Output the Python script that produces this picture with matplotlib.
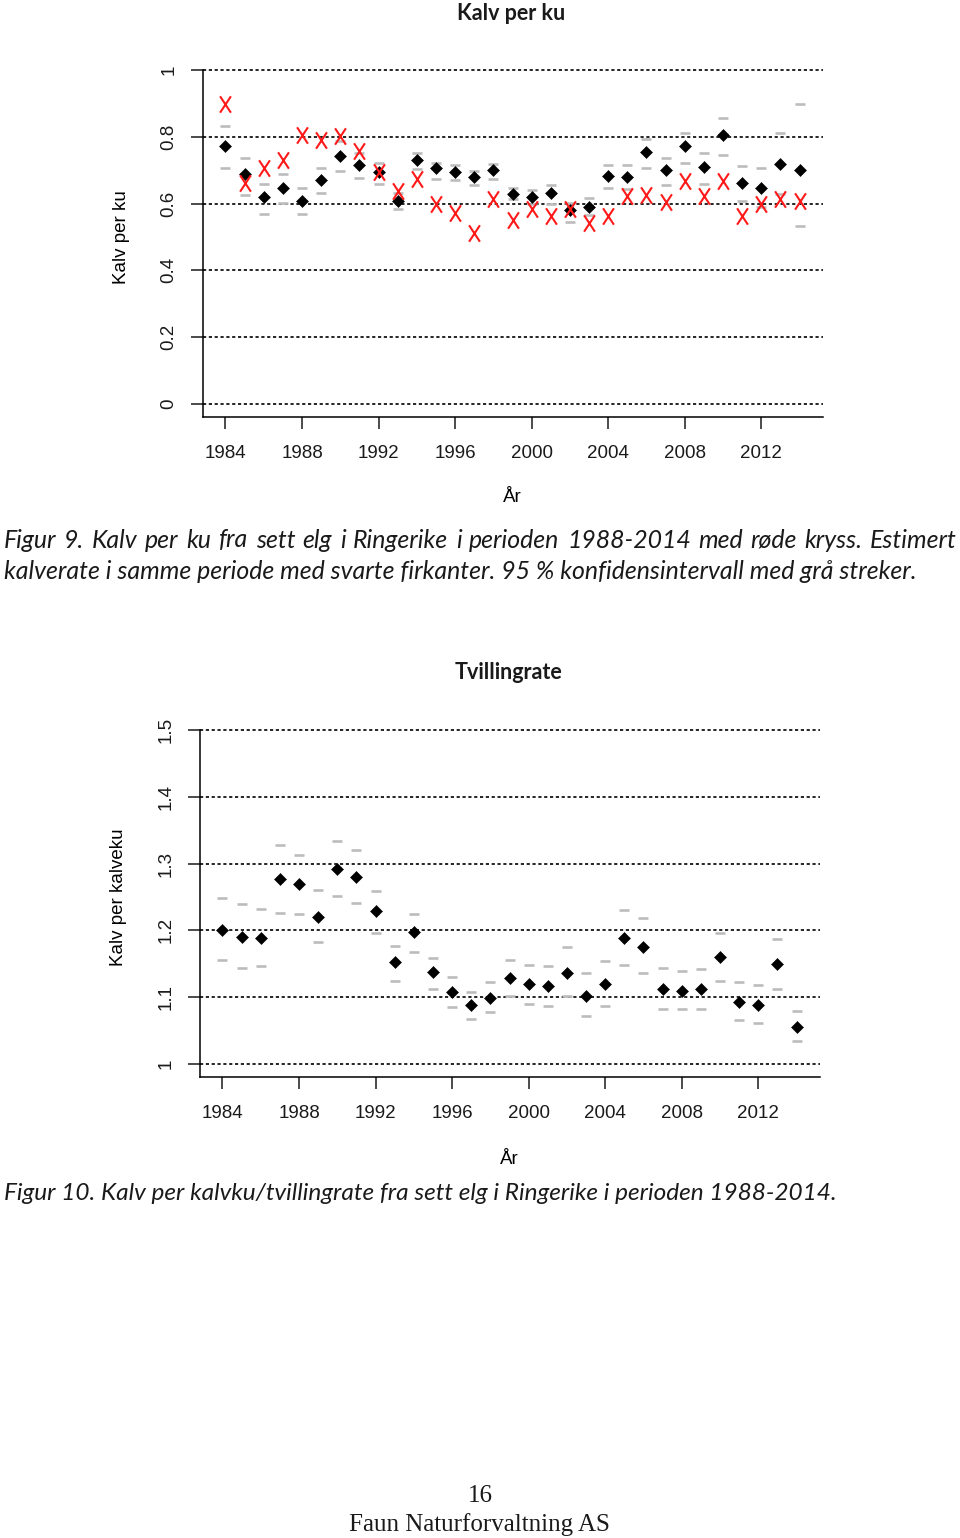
import matplotlib
matplotlib.use("Agg")
import matplotlib.pyplot as plt
from matplotlib.path import Path
from matplotlib import font_manager

W, H, DPI = 960, 1538, 100

years = [1984, 1985, 1986, 1987, 1988, 1989, 1990, 1991, 1992, 1993, 1994,
         1995, 1996, 1997, 1998, 1999, 2000, 2001, 2002, 2003, 2004, 2005,
         2006, 2007, 2008, 2009, 2010, 2011, 2012, 2013, 2014]

# Figur 9: kalv per ku
kpk_observed = [0.898, 0.663, 0.708, 0.731, 0.806, 0.791, 0.803, 0.756, 0.695, 0.638, 0.673,
                0.598, 0.573, 0.513, 0.613, 0.550, 0.585, 0.563, 0.583, 0.543, 0.563, 0.623,
                0.626, 0.606, 0.668, 0.623, 0.668, 0.563, 0.598, 0.613, 0.608]
kpk_estimate = [0.771, 0.688, 0.620, 0.648, 0.608, 0.672, 0.743, 0.715, 0.695, 0.608, 0.730,
                0.706, 0.696, 0.681, 0.701, 0.630, 0.621, 0.633, 0.581, 0.591, 0.682, 0.681,
                0.753, 0.701, 0.771, 0.710, 0.805, 0.662, 0.648, 0.720, 0.701]
kpk_upper = [0.832, 0.736, 0.660, 0.688, 0.646, 0.707, 0.786, 0.752, 0.723, 0.633, 0.752,
             0.723, 0.717, 0.698, 0.718, 0.646, 0.641, 0.655, 0.603, 0.618, 0.717, 0.717,
             0.792, 0.736, 0.812, 0.750, 0.855, 0.712, 0.707, 0.812, 0.898]
kpk_lower = [0.707, 0.626, 0.570, 0.603, 0.570, 0.631, 0.699, 0.678, 0.660, 0.583, 0.705,
             0.675, 0.670, 0.655, 0.675, 0.613, 0.600, 0.598, 0.545, 0.565, 0.646, 0.643,
             0.707, 0.655, 0.722, 0.660, 0.745, 0.608, 0.590, 0.628, 0.532]

# Figur 10: tvillingrate
tw_estimate = [1.200, 1.1895, 1.188, 1.2765, 1.2695, 1.2205, 1.2925, 1.2805, 1.229, 1.152, 1.197,
               1.137, 1.107, 1.088, 1.099, 1.128, 1.119, 1.117, 1.1355, 1.102, 1.119, 1.188,
               1.1755, 1.1115, 1.109, 1.1115, 1.1595, 1.0925, 1.0875, 1.1495, 1.0545]
tw_upper = [1.2485, 1.239, 1.2315, 1.3275, 1.3135, 1.2605, 1.3345, 1.320, 1.2585, 1.177, 1.2245,
            1.1585, 1.1295, 1.108, 1.122, 1.1555, 1.1485, 1.146, 1.175, 1.1365, 1.1535, 1.230,
            1.218, 1.144, 1.1395, 1.1415, 1.1965, 1.122, 1.1175, 1.1865, 1.079]
tw_lower = [1.1555, 1.144, 1.1465, 1.2265, 1.2245, 1.182, 1.251, 1.2415, 1.1965, 1.1245, 1.167,
            1.1125, 1.0845, 1.0675, 1.077, 1.1015, 1.089, 1.0865, 1.1015, 1.072, 1.087, 1.1485,
            1.1365, 1.082, 1.082, 1.082, 1.1245, 1.065, 1.0605, 1.1125, 1.034]

xticks = [1984, 1988, 1992, 1996, 2000, 2004, 2008, 2012]
xticklabels = ["1984", "1988", "1992", "1996", "2000", "2004", "2008", "2012"]
kpk_yticks = [0, 0.2, 0.4, 0.6, 0.8, 1.0]
kpk_yticklabels = ["0", "0.2", "0.4", "0.6", "0.8", "1"]
tw_yticks = [1.0, 1.1, 1.2, 1.3, 1.4, 1.5]
tw_yticklabels = ["1", "1.1", "1.2", "1.3", "1.4", "1.5"]

title1 = "Kalv per ku"
title2 = "Tvillingrate"
ylabel1 = "Kalv per ku"
ylabel2 = "Kalv per kalveku"
xlabel = "År"
cap1_line1 = "Figur 9. Kalv per ku fra sett elg i Ringerike i perioden 1988-2014 med røde kryss. Estimert"
cap1_line2 = "kalverate i samme periode med svarte firkanter. 95 % konfidensintervall med grå streker."
cap2 = "Figur 10. Kalv per kalvku/tvillingrate fra sett elg i Ringerike i perioden 1988-2014."
page_no = "16"
footer = "Faun Naturforvaltning AS"

names = {f.name for f in font_manager.fontManager.ttflist}
AXFONT = "Liberation Sans" if "Liberation Sans" in names else "DejaVu Sans"
CAPFONT = "Lato" if "Lato" in names else "DejaVu Sans"
SERIF = "Liberation Serif" if "Liberation Serif" in names else "DejaVu Serif"

plt.rcParams["font.family"] = [AXFONT, "DejaVu Sans"]

fig = plt.figure(figsize=(W / DPI, H / DPI), dpi=DPI)
fig.patch.set_facecolor("white")


def rect(l, t, r, b):
    return [l / W, 1 - b / H, (r - l) / W, (b - t) / H]


def fx(x):
    return x / W


def fy(y):
    return 1 - y / H


x_marker = Path([(-0.33, -0.5), (0.33, 0.5), (-0.33, 0.5), (0.33, -0.5)],
                [Path.MOVETO, Path.LINETO, Path.MOVETO, Path.LINETO])

GRAY = "#bcbcbc"
TXT = "#1a1a1a"
XLIM = (1982.8, 2015.2)


def style_axes(ax, ylim, yticks, yticklabels, ytop):
    ax.set_xlim(*XLIM)
    ax.set_ylim(*ylim)
    for s in ("top", "right"):
        ax.spines[s].set_visible(False)
    ax.spines["left"].set_bounds(ylim[0], ytop)
    for s in ("left", "bottom"):
        ax.spines[s].set_linewidth(1.1)
    ax.set_xticks(xticks)
    ax.set_xticklabels(xticklabels)
    ax.set_yticks(yticks)
    ax.set_yticklabels(yticklabels, rotation=90, va="center", ha="center")
    ax.tick_params(axis="both", direction="out", length=8.5, width=1.1,
                   labelsize=13.5, colors=TXT)
    ax.tick_params(axis="x", pad=11.5)
    ax.tick_params(axis="y", pad=15.5)
    ax.grid(axis="y", color="black", linestyle=(0, (1.9, 1.6)), linewidth=1.2)
    ax.set_axisbelow(True)
    ax.set_facecolor("white")


# ---- Top chart ----
ax1 = fig.add_axes(rect(202.5, 56.6, 822.5, 417.4))
style_axes(ax1, (-0.04, 1.04), kpk_yticks, kpk_yticklabels, 1.0)
ax1.plot(years, kpk_upper, linestyle="none", marker="_", markersize=7.5,
         markeredgewidth=1.9, color=GRAY, zorder=3)
ax1.plot(years, kpk_lower, linestyle="none", marker="_", markersize=7.5,
         markeredgewidth=1.9, color=GRAY, zorder=3)
ax1.plot(years, kpk_estimate, linestyle="none", marker="D", markersize=6.3,
         color="black", markeredgewidth=0.4, zorder=4)
ax1.plot(years, kpk_observed, linestyle="none", marker=x_marker, markersize=11.8,
         markerfacecolor="none", markeredgecolor="#ff1a1a", markeredgewidth=1.5, zorder=5)
ax1.set_xlabel(xlabel, fontsize=13.5)
ax1.xaxis.set_label_coords(0.5, (417.4 - 498) / (417.4 - 56.6))
ax1.xaxis.label.set_va("center")
ax1.set_ylabel(ylabel1, fontsize=13.5)
ax1.yaxis.set_label_coords((122 - 202.5) / 620, 0.5)
ax1.yaxis.label.set_va("center")

# ---- Bottom chart ----
ax2 = fig.add_axes(rect(199.5, 717.0, 819.5, 1077.0))
style_axes(ax2, (0.98, 1.52), tw_yticks, tw_yticklabels, 1.5)
ax2.plot(years, tw_upper, linestyle="none", marker="_", markersize=7.5,
         markeredgewidth=1.9, color=GRAY, zorder=3)
ax2.plot(years, tw_lower, linestyle="none", marker="_", markersize=7.5,
         markeredgewidth=1.9, color=GRAY, zorder=3)
ax2.plot(years, tw_estimate, linestyle="none", marker="D", markersize=6.3,
         color="black", markeredgewidth=0.4, zorder=4)
ax2.set_xlabel(xlabel, fontsize=13.5)
ax2.xaxis.set_label_coords(0.5, (1077 - 1159) / (1077 - 717))
ax2.xaxis.label.set_va("center")
ax2.set_ylabel(ylabel2, fontsize=13.5)
ax2.yaxis.set_label_coords((119 - 199.5) / 620, 0.5)
ax2.yaxis.label.set_va("center")

# ---- Titles ----
fig.text(fx(511), fy(13), title1, ha="center", va="center", fontsize=15.5,
         fontweight="bold", family=[CAPFONT, "DejaVu Sans"], color=TXT)
fig.text(fx(508.5), fy(673), title2, ha="center", va="center", fontsize=15.5,
         fontweight="bold", family=[CAPFONT, "DejaVu Sans"], color=TXT)

# ---- Captions ----
renderer = fig.canvas.get_renderer()
cap_fam = [CAPFONT, "DejaVu Sans"]


def text_width(s, size):
    t = fig.text(0, 0, s, fontsize=size, style="italic", family=cap_fam)
    w = t.get_window_extent(renderer).width
    t.remove()
    return w


base = 16.0
cap_size = base * (913.0 / text_width(cap1_line2, base))
cap2_size = base * (832.0 / text_width(cap2, base))


def justified(line, x0, x1, y, size):
    words = line.split(" ")
    widths = [text_width(w, size) for w in words]
    gap = (x1 - x0 - sum(widths)) / (len(words) - 1)
    x = x0
    for w, wd in zip(words, widths):
        fig.text(fx(x), fy(y), w, fontsize=size, style="italic", family=cap_fam,
                 ha="left", va="center", color=TXT)
        x += wd + gap


justified(cap1_line1, 4, 957, 540, cap_size)
fig.text(fx(4), fy(571), cap1_line2, fontsize=cap_size, style="italic", family=cap_fam,
         ha="left", va="center", color=TXT)
fig.text(fx(4), fy(1194), cap2, fontsize=cap2_size, style="italic", family=cap_fam,
         ha="left", va="center", color=TXT)

# ---- Footer ----
fig.text(fx(480), fy(1496), page_no, fontsize=18, family=[SERIF, "DejaVu Serif"],
         ha="center", va="center", color=TXT)
fig.text(fx(479.5), fy(1525), footer, fontsize=18, family=[SERIF, "DejaVu Serif"],
         ha="center", va="center", color=TXT)

fig.savefig("out.png", dpi=DPI, facecolor="white")
